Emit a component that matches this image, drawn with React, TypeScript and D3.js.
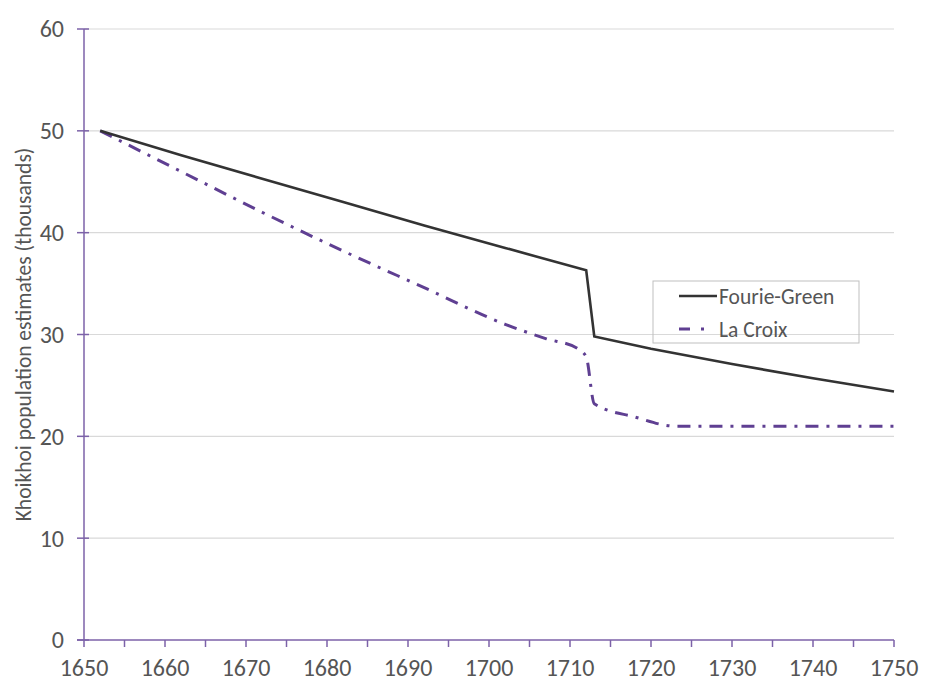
import React, { useEffect, useRef } from 'react';
import * as d3 from 'd3';

// Khoikhoi population estimates (thousands)
const fourieYears = [1652, 1662, 1672, 1682, 1692, 1702, 1712, 1713, 1720, 1730, 1740, 1750];
const fourieValues = [50, 47.6, 45.3, 43.0, 40.7, 38.5, 36.3, 29.8, 28.6, 27.1, 25.7, 24.4];

const croixYears = [1652, 1662, 1672, 1682, 1692, 1702, 1707, 1711, 1712, 1713, 1718, 1723, 1735, 1750];
const croixValues = [50, 46.0, 42.0, 38.2, 34.6, 31.0, 29.6, 28.6, 27.8, 23.2, 21.9, 21.0, 21.0, 21.0];

const xTicks = d3.range(1650, 1751, 10);
const xMinor = d3.range(1650, 1751, 5);
const yTicks = [0, 10, 20, 30, 40, 50, 60];

const axisColor = '#7c62a8';
const gridColor = '#d9d9d9';
const textColor = '#555555';
const croixColor = '#5f3f92';
const fourieColor = '#333333';

const App: React.FC = () => {
  const svgRef = useRef<SVGSVGElement | null>(null);

  useEffect(() => {
    if (!svgRef.current) return;
    const width = 933;
    const height = 686;
    const margin = { top: 29, right: 39, bottom: 46, left: 84 };

    const svg = d3.select(svgRef.current);
    svg.selectAll('*').remove();

    const x = d3.scaleLinear().domain([1650, 1750]).range([margin.left, width - margin.right]);
    const y = d3.scaleLinear().domain([0, 60]).range([height - margin.bottom, margin.top]);

    const font = "Carlito, Lato, 'Open Sans', sans-serif";

    // gridlines
    svg.append('g')
      .selectAll('line')
      .data(yTicks.filter(d => d > 0))
      .join('line')
      .attr('x1', x(1650))
      .attr('x2', x(1750))
      .attr('y1', d => y(d))
      .attr('y2', d => y(d))
      .attr('stroke', gridColor)
      .attr('stroke-width', 1.2);

    // y axis
    const yAxis = svg.append('g');
    yAxis.append('line')
      .attr('x1', x(1650)).attr('x2', x(1650))
      .attr('y1', y(0)).attr('y2', y(60))
      .attr('stroke', axisColor).attr('stroke-width', 1.5);
    yAxis.selectAll('line.tick')
      .data(yTicks)
      .join('line')
      .attr('class', 'tick')
      .attr('x1', x(1650) - 7).attr('x2', x(1650) + 5)
      .attr('y1', d => y(d)).attr('y2', d => y(d))
      .attr('stroke', axisColor).attr('stroke-width', 1.5);
    yAxis.selectAll('text')
      .data(yTicks)
      .join('text')
      .attr('x', x(1650) - 20)
      .attr('y', d => y(d))
      .attr('dy', '0.35em')
      .attr('text-anchor', 'end')
      .attr('font-family', font)
      .attr('font-size', 24)
      .attr('fill', textColor)
      .text(d => d);

    // x axis
    const xAxis = svg.append('g');
    xAxis.append('line')
      .attr('x1', x(1650) - 7).attr('x2', x(1750))
      .attr('y1', y(0)).attr('y2', y(0))
      .attr('stroke', axisColor).attr('stroke-width', 1.5);
    xAxis.selectAll('line.tick')
      .data(xMinor)
      .join('line')
      .attr('class', 'tick')
      .attr('x1', d => x(d)).attr('x2', d => x(d))
      .attr('y1', y(0)).attr('y2', y(0) + 7)
      .attr('stroke', axisColor).attr('stroke-width', 1.5);
    xAxis.selectAll('text')
      .data(xTicks)
      .join('text')
      .attr('x', d => x(d))
      .attr('y', y(0) + 36)
      .attr('text-anchor', 'middle')
      .attr('font-family', font)
      .attr('font-size', 24)
      .attr('fill', textColor)
      .text(d => d);

    // y label
    svg.append('text')
      .attr('transform', `translate(31,${(y(0) + y(60)) / 2}) rotate(-90)`)
      .attr('text-anchor', 'middle')
      .attr('font-family', font)
      .attr('font-size', 21.5)
      .attr('fill', textColor)
      .text('Khoikhoi population estimates (thousands)');

    const line = d3.line<[number, number]>()
      .x(d => x(d[0]))
      .y(d => y(d[1]));

    const croixLine = d3.line<[number, number]>()
      .x(d => x(d[0]))
      .y(d => y(d[1]))
      .curve(d3.curveMonotoneX);

    svg.append('path')
      .datum(croixYears.map((yr, i) => [yr, croixValues[i]] as [number, number]))
      .attr('d', croixLine)
      .attr('fill', 'none')
      .attr('stroke', croixColor)
      .attr('stroke-width', 3)
      .attr('stroke-dasharray', '13 8 3 8');

    svg.append('path')
      .datum(fourieYears.map((yr, i) => [yr, fourieValues[i]] as [number, number]))
      .attr('d', line)
      .attr('fill', 'none')
      .attr('stroke', fourieColor)
      .attr('stroke-width', 2.6);

    // legend
    const lg = svg.append('g').attr('transform', 'translate(653,281)');
    lg.append('rect')
      .attr('width', 206).attr('height', 62)
      .attr('fill', 'none')
      .attr('stroke', '#bfbfbf')
      .attr('stroke-width', 1);
    lg.append('line')
      .attr('x1', 26).attr('x2', 64).attr('y1', 15).attr('y2', 15)
      .attr('stroke', fourieColor).attr('stroke-width', 2.6);
    lg.append('line')
      .attr('x1', 26).attr('x2', 64).attr('y1', 48).attr('y2', 48)
      .attr('stroke', croixColor).attr('stroke-width', 3)
      .attr('stroke-dasharray', '11 11 3 20');
    lg.append('text')
      .attr('x', 66).attr('y', 15).attr('dy', '0.35em')
      .attr('font-family', font).attr('font-size', 21.5).attr('fill', textColor)
      .text('Fourie-Green');
    lg.append('text')
      .attr('x', 66).attr('y', 48).attr('dy', '0.35em')
      .attr('font-family', font).attr('font-size', 21.5).attr('fill', textColor)
      .text('La Croix');
  }, []);

  return <svg ref={svgRef} width={933} height={686} style={{ display: 'block', position: 'absolute', left: 0, top: 0 }} />;
};

export default App;
